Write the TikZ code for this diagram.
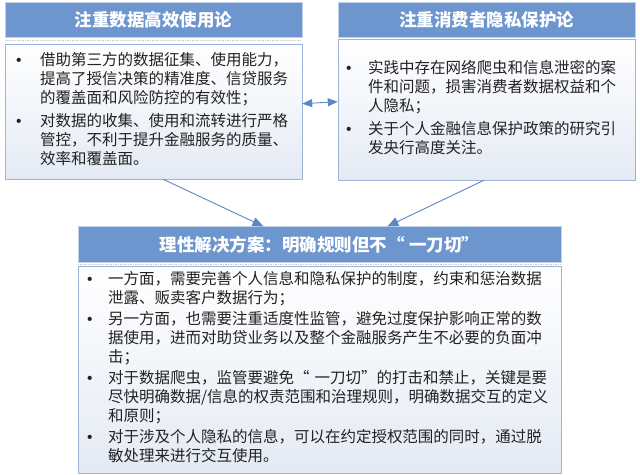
\documentclass[tikz,border=0pt]{standalone}
\usepackage{fontspec}
\setmainfont{Noto Sans CJK SC}
\newfontfamily\dotfont{Liberation Sans}
\usepackage{xcolor}
\usetikzlibrary{arrows.meta, positioning}
\definecolor{headblue}{HTML}{6D95CE}
\definecolor{edgeblue}{HTML}{9DB4D8}
\definecolor{paleblue}{HTML}{E4EAF4}
\definecolor{linkblue}{HTML}{5B87C6}
\definecolor{bodytext}{HTML}{222222}
\newcommand{\pointlist}[2]{\begin{tabular}{@{}p{#1}@{}l@{}}#2\end{tabular}}
\newcommand{\pt}{{\dotfont\hspace{-1pt}\textbullet}}

\begin{document}
\begin{tikzpicture}[
    x=1pt, y=1pt,
    head/.style={draw=edgeblue!60, fill=headblue, text=white, minimum height=35pt, font=\fontsize{17.5}{20}\bfseries},
    body/.style={draw=edgeblue, top color=white, bottom color=paleblue, text=bodytext, inner ysep=4pt, align=left, font=\fontsize{15.5}{19}\selectfont},
    sep/.style={draw=gray!40, densely dotted, line width=1.5pt},
    link/.style={draw=linkblue, line width=0.9pt, -{Triangle[length=11pt, width=9pt]}},
]
\useasboundingbox (0,0) rectangle (640,-474);

% Two views
\node[body, minimum width=297pt, minimum height=135pt, text width=273pt, inner xsep=12pt] (lbody) at (153.5,-111.5) {\pointlist{23pt}{
\pt & 借助第三方的数据征集、使用能力，\\
 & 提高了授信决策的精准度、信贷服务\\
 & 的覆盖面和风险防控的有效性；\\[4pt]
\pt & 对数据的收集、使用和流转进行严格\\
 & 管控，不利于提升金融服务的质量、\\
 & 效率和覆盖面。}};
\node[head, minimum width=297pt, above=6pt of lbody] (lhead) {注重数据高效使用论};
\draw[sep] ([yshift=-2.5pt]lhead.south west) -- ([yshift=-2.5pt]lhead.south east);

\node[body, minimum width=297pt, minimum height=141pt, text width=279pt, inner xsep=9pt] (rbody) at (486.5,-109.5) {\pointlist{21pt}{
\pt & 实践中存在网络爬虫和信息泄密的案\\
 & 件和问题，损害消费者数据权益和个\\
 & 人隐私；\\[4pt]
\pt & 关于个人金融信息保护政策的研究引\\
 & 发央行高度关注。}};
\node[head, minimum width=297pt, above=1pt of rbody] (rhead) {注重消费者隐私保护论};

% Solution
\node[body, minimum width=483pt, minimum height=207pt, text width=463pt, inner xsep=10pt] (bbody) at (319.5,-369.5) {\pointlist{20pt}{
\pt & 一方面，需要完善个人信息和隐私保护的制度，约束和惩治数据\\
 & 泄露、贩卖客户数据行为；\\[2pt]
\pt & 另一方面，也需要注重适度性监管，避免过度保护影响正常的数\\
 & 据使用，进而对助贷业务以及整个金融服务产生不必要的负面冲\\
 & 击；\\[2pt]
\pt & 对于数据爬虫，监管要避免“ 一刀切”的打击和禁止，关键是要\\
 & 尽快明确数据/信息的权责范围和治理规则，明确数据交互的定义\\
 & 和原则；\\[2pt]
\pt & 对于涉及个人隐私的信息，可以在约定授权范围的同时，通过脱\\
 & 敏处理来进行交互使用。}};
\node[head, minimum width=483pt, minimum height=36pt, above=3pt of bbody] (bhead) {理性解决方案：明确规则但不“ 一刀切”};
\draw[sep] ([yshift=-1.5pt]bhead.south west) -- ([yshift=-1.5pt]bhead.south east);

% Links
\draw[link, {Triangle[length=10pt, width=8pt]}-{Triangle[length=10pt, width=8pt]}] (lbody.3.7) -- (rbody.177.1);
\draw[link] (lbody.-82) -- (bhead.162.3);
\draw[link] (rbody.-92.8) -- (bhead.15.4);

\end{tikzpicture}
\end{document}
